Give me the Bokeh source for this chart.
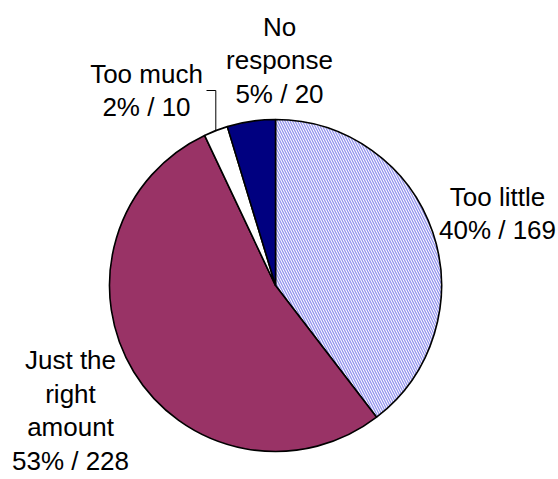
import math
from bokeh.plotting import figure
from bokeh.models import Range1d, ColumnDataSource
from bokeh.core.properties import value
from bokeh.embed import file_html
from bokeh.resources import INLINE

# ---- data ----
categories = ["Too little", "Just the\nright\namount", "Too much", "No\nresponse"]
counts = [169, 228, 10, 20]
fill_colors = ["#ffffff", "#993366", "#ffffff", "#000080"]

# ---- layout (pixel coordinates, y measured from top) ----
W, H = 558, 479
CX, CY, R = 275, 285, 166
label_pos = [(497, 213), (70, 410), (146, 90), (279, 60)]

total = sum(counts)
starts, ends = [], []
acc = 0
for c in counts:
    a0 = math.pi / 2 - 2 * math.pi * acc / total
    acc += c
    a1 = math.pi / 2 - 2 * math.pi * acc / total
    starts.append(a0)
    ends.append(a1)

p = figure(width=W, height=H, x_range=Range1d(0, W), y_range=Range1d(0, H),
           x_axis_type=None, y_axis_type=None, toolbar_location=None,
           output_backend="svg", min_border=0, outline_line_color=None,
           background_fill_color="white", border_fill_color="white")
p.grid.visible = False

for i in range(len(counts)):
    kw = dict(x=CX, y=H - CY, radius=R, start_angle=starts[i], end_angle=ends[i],
              direction="clock", fill_color=fill_colors[i], line_color="black",
              line_width=1.6)
    if i == 0:
        kw.update(hatch_pattern="\\", hatch_color="#9393ee", hatch_scale=5,
                  hatch_weight=1.3)
    p.wedge(**kw)

# leader line for the small "Too much" slice
mid = (starts[2] + ends[2]) / 2
ex, ey = CX + R * math.cos(mid), (H - CY) + R * math.sin(mid)
lx, ly = label_pos[2]
p.line(x=[lx + 60, ex, ex], y=[H - ly, H - ly, ey], line_color="black", line_width=1)

texts = []
for cat, c in zip(categories, counts):
    pct = round(100 * c / total)
    texts.append(f"{cat}\n{pct}% / {c}")

src = ColumnDataSource(dict(x=[q[0] for q in label_pos], y=[H - q[1] for q in label_pos], t=texts))
p.text(x="x", y="y", text="t", source=src, text_align="center", text_baseline="middle",
       text_font=value("Liberation Sans"), text_font_size="26px", text_color="black",
       text_line_height=1.12)

open("out.html", "w").write(file_html(p, INLINE))
